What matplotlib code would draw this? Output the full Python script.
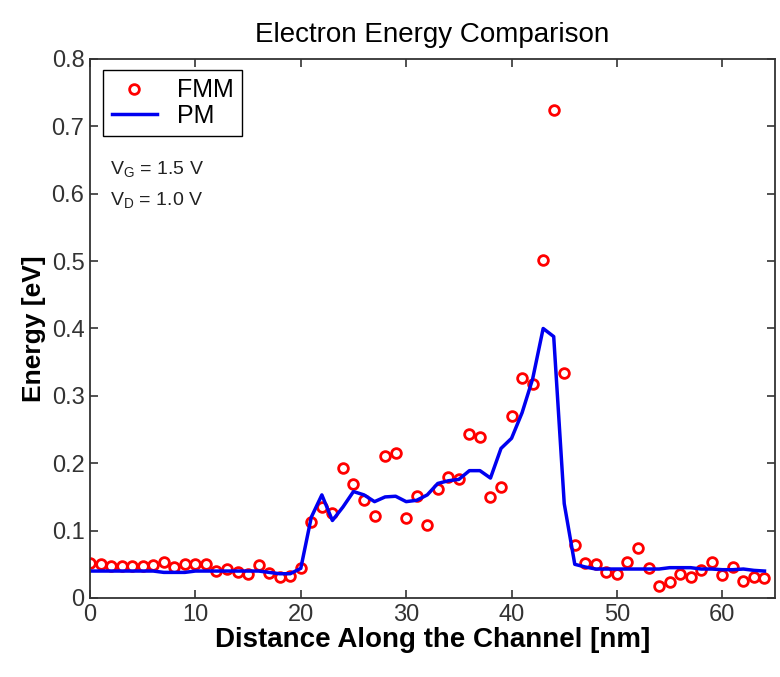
import matplotlib
matplotlib.use('Agg')
import matplotlib.pyplot as plt
import numpy as np

plt.rcParams['font.family'] = ['Liberation Sans', 'DejaVu Sans']

# position along the channel [nm]
distance = np.arange(0, 65)

# FMM energies [eV], one per nm
fmm = [0.052, 0.050, 0.048, 0.048, 0.048, 0.048, 0.049, 0.054, 0.046, 0.050,
       0.050, 0.050, 0.040, 0.043, 0.039, 0.036, 0.049, 0.037, 0.031, 0.033,
       0.045, 0.113, 0.135, 0.126, 0.193, 0.169, 0.145, 0.121, 0.211, 0.215,
       0.119, 0.151, 0.108, 0.162, 0.180, 0.176, 0.244, 0.239, 0.150, 0.165,
       0.270, 0.326, 0.317, 0.502, 0.724, 0.334, 0.079, 0.052, 0.050, 0.038,
       0.036, 0.053, 0.074, 0.044, 0.018, 0.024, 0.036, 0.031, 0.042, 0.053,
       0.034, 0.046, 0.025, 0.031, 0.030]

# PM energies [eV]
pm = [0.040, 0.040, 0.040, 0.040, 0.040, 0.040, 0.040, 0.038, 0.038, 0.038,
      0.040, 0.040, 0.040, 0.040, 0.040, 0.040, 0.040, 0.038, 0.036, 0.036,
      0.044, 0.120, 0.153, 0.115, 0.135, 0.158, 0.153, 0.143, 0.150, 0.151,
      0.143, 0.145, 0.153, 0.170, 0.174, 0.176, 0.189, 0.189, 0.178, 0.222,
      0.237, 0.275, 0.325, 0.400, 0.388, 0.140, 0.050, 0.046, 0.043, 0.043,
      0.043, 0.043, 0.043, 0.043, 0.043, 0.045, 0.045, 0.045, 0.043, 0.043,
      0.042, 0.042, 0.043, 0.041, 0.040]

xticks = [0, 10, 20, 30, 40, 50, 60]
yticks = [0, 0.1, 0.2, 0.3, 0.4, 0.5, 0.6, 0.7, 0.8]
yticklabels = ['0', '0.1', '0.2', '0.3', '0.4', '0.5', '0.6', '0.7', '0.8']

fig = plt.figure(figsize=(7.8, 6.77), dpi=100)
ax = fig.add_axes([0.1154, 0.1167, 0.8782, 0.7962])

ax.plot(distance, fmm, 'o', color='red', mfc='none', ms=7, mew=2, label='FMM')
ax.plot(distance, pm, '-', color='#0000f0', lw=2.5, label='PM')

ax.set_xlim(0, 65)
ax.set_ylim(0, 0.8)
ax.set_xticks(xticks)
ax.set_yticks(yticks)
ax.set_yticklabels(yticklabels)
ax.tick_params(direction='in', top=True, right=True, length=6, width=1.2,
               labelsize=17, labelcolor='#333333', color='#333333', pad=4)
for s in ax.spines.values():
    s.set_linewidth(1.3)
    s.set_color('#333333')

ax.set_title('Electron Energy Comparison', fontsize=20, pad=12)
ax.set_xlabel('Distance Along the Channel [nm]', fontsize=20, fontweight='bold', labelpad=1)
ax.set_ylabel('Energy [eV]', fontsize=19, fontweight='bold', labelpad=4)

leg = ax.legend(loc='upper left', bbox_to_anchor=(0.019, 0.98), borderaxespad=0,
                fontsize=18, fancybox=False, framealpha=1, edgecolor='black',
                handlelength=1.8, handletextpad=0.8, borderpad=0.35, labelspacing=0.05)
leg.get_frame().set_linewidth(1.0)

ax.text(0.029, 0.795, r'V$\mathregular{_G}$ = 1.5 V', transform=ax.transAxes,
        fontsize=14, va='center', color='#222222')
ax.text(0.029, 0.738, r'V$\mathregular{_D}$ = 1.0 V', transform=ax.transAxes,
        fontsize=14, va='center', color='#222222')

fig.savefig('out.png', dpi=100)
